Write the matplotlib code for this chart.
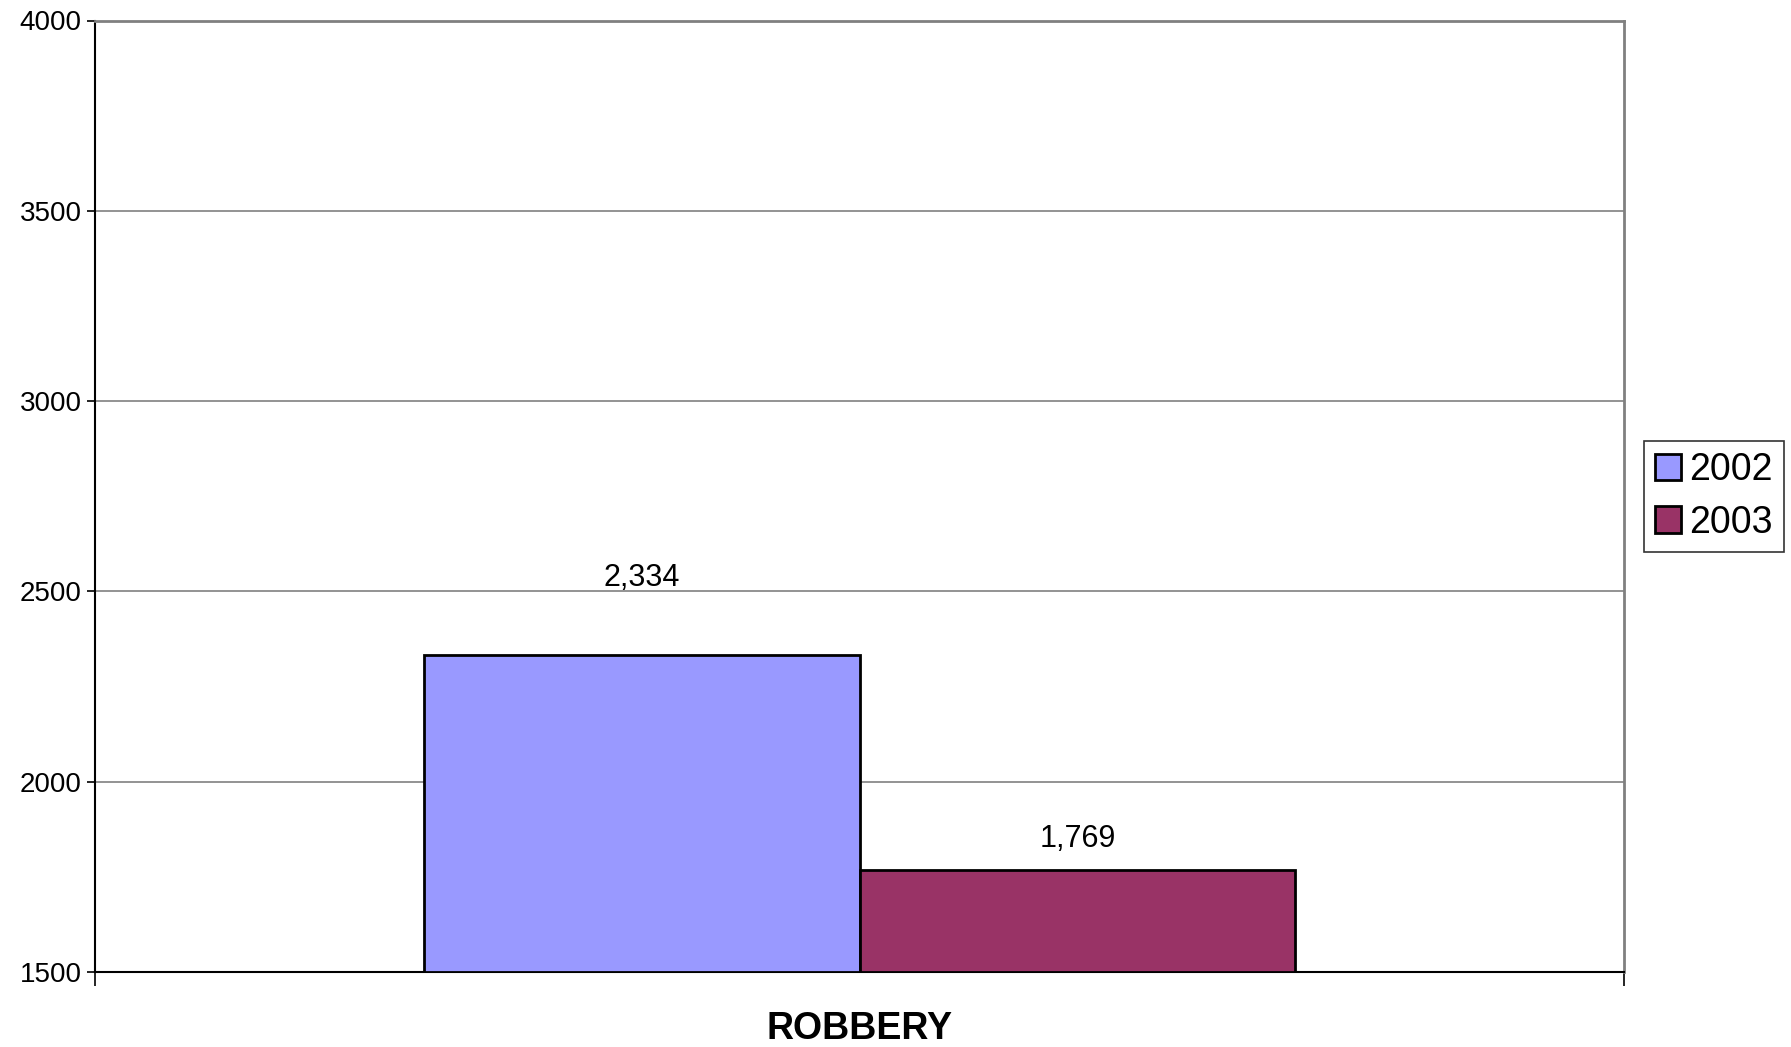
import matplotlib.pyplot as plt
import numpy as np

plt.rcParams["font.family"] = ["Liberation Sans", "DejaVu Sans"]

category = "ROBBERY"
years = ["2002", "2003"]
values = [2334, 1769]

colors = ["#9999FF", "#993366"]
label_offsets = [62, 16]  # px above bar top, as in the original

fig = plt.figure(figsize=(17.91, 10.47), dpi=100)
ax = fig.add_axes([95 / 1791, 1 - 972 / 1047, (1624 - 95) / 1791, (972 - 20.5) / 1047])

width = 0.285
for i, (yr, v) in enumerate(zip(years, values)):
    xpos = (i - 0.5) * width
    ax.bar(xpos, v - 1500, bottom=1500, width=width, color=colors[i],
           edgecolor="black", linewidth=2, label=yr, zorder=3)
    ax.annotate(f"{v:,}", (xpos, v), xytext=(0, label_offsets[i] * 0.72),
                textcoords="offset points", ha="center", va="bottom",
                fontsize=22)

ax.set_xlim(-0.5, 0.5)
ax.set_ylim(1500, 4000)
ax.set_yticks(np.arange(1500, 4001, 500))
ax.tick_params(axis="y", labelsize=20, direction="out", length=6, width=1.2)
ax.set_xticks([-0.5, 0.5])
ax.set_xticklabels(["", ""])
ax.tick_params(axis="x", direction="out", length=10, width=1.2)
ax.text(0.5, -0.06, category, transform=ax.transAxes, ha="center", va="center",
        fontsize=27, fontweight="bold")

ax.grid(axis="y", color="#808080", linewidth=1.2, zorder=0)
ax.set_axisbelow(True)
for s in ["left", "bottom"]:
    ax.spines[s].set_color("black")
    ax.spines[s].set_linewidth(1.5)
for s in ["top", "right"]:
    ax.spines[s].set_color("#808080")
    ax.spines[s].set_linewidth(2)

leg = ax.legend(loc="center left", bbox_to_anchor=(1.013, 0.5), fontsize=27,
                frameon=True, fancybox=False, edgecolor="black",
                handlelength=0.7, handleheight=0.7, handletextpad=0.2,
                borderpad=0.3, labelspacing=0.45, borderaxespad=0)
leg.get_frame().set_linewidth(1.2)

fig.savefig("out.png", dpi=100)
